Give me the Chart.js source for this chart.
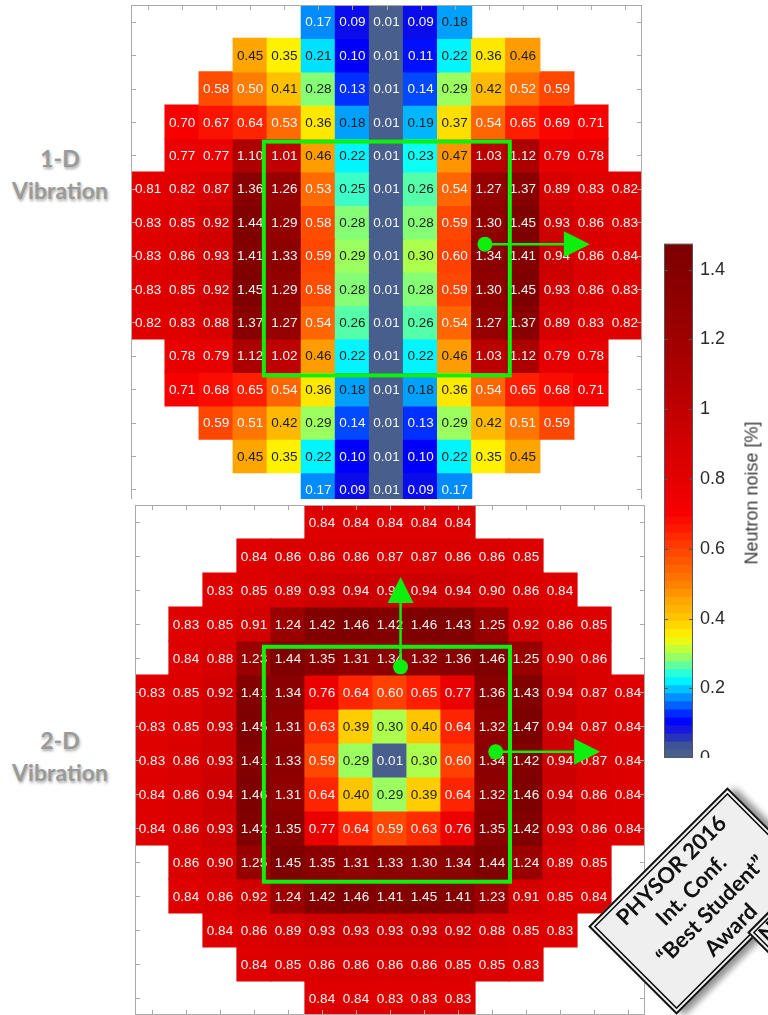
<!DOCTYPE html>
<html>
<head>
<meta charset="utf-8">
<script src="https://cdn.jsdelivr.net/npm/chart.js@4.4.1/dist/chart.umd.min.js"></script>
<style>
  html, body { margin: 0; padding: 0; background: #fff; }
  body { width: 768px; height: 1015px; overflow: hidden; position: relative; font-family: "Liberation Sans", Arial, sans-serif; }
  .abs { position: absolute; }
  .clip { position: absolute; overflow: hidden; }
  .side { position: absolute; width: 120px; text-align: center; font-family: Lato, "Open Sans", sans-serif; font-weight: 700; font-size: 23px; line-height: 32px; color: #9a9a9a; text-shadow: 1px 2px 3px rgba(0,0,0,0.35); }
  .cblabel { position: absolute; left: 752px; top: 493px; transform: translate(-50%, -50%) rotate(-90deg); white-space: nowrap; font-size: 18px; color: #3a3a3a; }
  .sign { position: absolute; width: 197px; height: 125px; box-sizing: border-box; background: #efefef;
          border: 2px solid #111; box-shadow: inset 0 0 0 2px #fafafa, inset 0 0 0 3.5px #111, 5px 6px 7px rgba(0,0,0,0.45);
          transform: translate(-50%, -50%) rotate(-45deg); font-family: Lato, "Open Sans", sans-serif; font-weight: 700; font-size: 22px; color: #111; }
  .sign .txt { position: absolute; left: 0; right: 0; top: 50%; transform: translateY(-52%); text-align: center; line-height: 28px; }
</style>
</head>
<body>

<div class="side" style="left:0px; top:142px;">1-D<br>Vibration</div>
<div class="side" style="left:0px; top:724px;">2-D<br>Vibration</div>

<div class="clip" style="left:0; top:0; width:660px; height:499px;">
  <div class="abs" style="left:129px; top:3px; width:515px; height:505px;"><canvas id="top"></canvas></div>
</div>
<div class="abs" style="left:133px; top:503px; width:514px; height:514px;"><canvas id="bottom"></canvas></div>

<div class="clip" style="left:600px; top:0; width:168px; height:758px;">
  <div class="abs" style="left:51px; top:226px; width:117px; height:550px;"><canvas id="cbar"></canvas></div>
</div>
<div class="cblabel">Neutron noise [%]</div>

<div class="sign" style="left:702px; top:901px;">
  <div class="txt">PHYSOR 2016<br>Int. Conf.<br>“Best Student”<br>Award</div>
</div>
<div class="sign" style="left:861px; top:907px;">
  <span style="position:absolute; left:5px; top:-2px;">N</span>
</div>

<script>
// core map: 15 x 15 positions, each row starts at rowStart[r]
const cols = ['1','2','3','4','5','6','7','8','9','10','11','12','13','14','15'];
const rowStart = [5, 3, 2, 1, 1, 0, 0, 0, 0, 0, 1, 1, 2, 3, 5];

// 1-D vibration, neutron noise [%]
const noise1D = [
  [0.17, 0.09, 0.01, 0.09, 0.18],
  [0.45, 0.35, 0.21, 0.10, 0.01, 0.11, 0.22, 0.36, 0.46],
  [0.58, 0.50, 0.41, 0.28, 0.13, 0.01, 0.14, 0.29, 0.42, 0.52, 0.59],
  [0.70, 0.67, 0.64, 0.53, 0.36, 0.18, 0.01, 0.19, 0.37, 0.54, 0.65, 0.69, 0.71],
  [0.77, 0.77, 1.10, 1.01, 0.46, 0.22, 0.01, 0.23, 0.47, 1.03, 1.12, 0.79, 0.78],
  [0.81, 0.82, 0.87, 1.36, 1.26, 0.53, 0.25, 0.01, 0.26, 0.54, 1.27, 1.37, 0.89, 0.83, 0.82],
  [0.83, 0.85, 0.92, 1.44, 1.29, 0.58, 0.28, 0.01, 0.28, 0.59, 1.30, 1.45, 0.93, 0.86, 0.83],
  [0.83, 0.86, 0.93, 1.41, 1.33, 0.59, 0.29, 0.01, 0.30, 0.60, 1.34, 1.41, 0.94, 0.86, 0.84],
  [0.83, 0.85, 0.92, 1.45, 1.29, 0.58, 0.28, 0.01, 0.28, 0.59, 1.30, 1.45, 0.93, 0.86, 0.83],
  [0.82, 0.83, 0.88, 1.37, 1.27, 0.54, 0.26, 0.01, 0.26, 0.54, 1.27, 1.37, 0.89, 0.83, 0.82],
  [0.78, 0.79, 1.12, 1.02, 0.46, 0.22, 0.01, 0.22, 0.46, 1.03, 1.12, 0.79, 0.78],
  [0.71, 0.68, 0.65, 0.54, 0.36, 0.18, 0.01, 0.18, 0.36, 0.54, 0.65, 0.68, 0.71],
  [0.59, 0.51, 0.42, 0.29, 0.14, 0.01, 0.13, 0.29, 0.42, 0.51, 0.59],
  [0.45, 0.35, 0.22, 0.10, 0.01, 0.10, 0.22, 0.35, 0.45],
  [0.17, 0.09, 0.01, 0.09, 0.17]
];

// 2-D vibration
const noise2D = [
  [0.84, 0.84, 0.84, 0.84, 0.84],
  [0.84, 0.86, 0.86, 0.86, 0.87, 0.87, 0.86, 0.86, 0.85],
  [0.83, 0.85, 0.89, 0.93, 0.94, 0.94, 0.94, 0.94, 0.90, 0.86, 0.84],
  [0.83, 0.85, 0.91, 1.24, 1.42, 1.46, 1.42, 1.46, 1.43, 1.25, 0.92, 0.86, 0.85],
  [0.84, 0.88, 1.23, 1.44, 1.35, 1.31, 1.34, 1.32, 1.36, 1.46, 1.25, 0.90, 0.86],
  [0.83, 0.85, 0.92, 1.41, 1.34, 0.76, 0.64, 0.60, 0.65, 0.77, 1.36, 1.43, 0.94, 0.87, 0.84],
  [0.83, 0.85, 0.93, 1.45, 1.31, 0.63, 0.39, 0.30, 0.40, 0.64, 1.32, 1.47, 0.94, 0.87, 0.84],
  [0.83, 0.86, 0.93, 1.41, 1.33, 0.59, 0.29, 0.01, 0.30, 0.60, 1.34, 1.42, 0.94, 0.87, 0.84],
  [0.84, 0.86, 0.94, 1.46, 1.31, 0.64, 0.40, 0.29, 0.39, 0.64, 1.32, 1.46, 0.94, 0.86, 0.84],
  [0.84, 0.86, 0.93, 1.42, 1.35, 0.77, 0.64, 0.59, 0.63, 0.76, 1.35, 1.42, 0.93, 0.86, 0.84],
  [0.86, 0.90, 1.25, 1.45, 1.35, 1.31, 1.33, 1.30, 1.34, 1.44, 1.24, 0.89, 0.85],
  [0.84, 0.86, 0.92, 1.24, 1.42, 1.46, 1.41, 1.45, 1.41, 1.23, 0.91, 0.85, 0.84],
  [0.84, 0.86, 0.89, 0.93, 0.93, 0.93, 0.93, 0.92, 0.88, 0.85, 0.83],
  [0.84, 0.85, 0.86, 0.86, 0.86, 0.86, 0.85, 0.85, 0.83],
  [0.84, 0.84, 0.83, 0.83, 0.83]
];

const cbarTicks = [0, 0.2, 0.4, 0.6, 0.8, 1, 1.2, 1.4];
const cbarMax = 1.474;
const cbarLevels = 64;

// colormap stops: value -> rgb
const cmap = [
  [0.00, [72, 94, 140]], [0.026, [72, 94, 140]], [0.05, [45, 60, 175]], [0.075, [28, 30, 215]],
  [0.10, [0, 0, 250]], [0.13, [0, 48, 255]], [0.155, [0, 110, 255]], [0.18, [0, 160, 255]],
  [0.205, [0, 215, 255]], [0.225, [0, 255, 255]], [0.25, [60, 255, 200]], [0.27, [110, 255, 140]],
  [0.29, [155, 255, 95]], [0.315, [200, 255, 50]], [0.345, [255, 245, 0]], [0.39, [255, 205, 0]],
  [0.45, [255, 165, 0]], [0.50, [255, 125, 0]], [0.55, [255, 95, 0]], [0.60, [255, 65, 0]],
  [0.65, [255, 30, 0]], [0.70, [248, 0, 0]], [0.80, [228, 0, 0]], [0.90, [212, 0, 0]],
  [1.00, [192, 0, 0]], [1.12, [172, 0, 0]], [1.25, [152, 0, 0]], [1.35, [138, 0, 0]], [1.474, [124, 0, 0]]
];

function noiseColor(v) {
  if (v <= cmap[0][0]) return `rgb(${cmap[0][1].join(',')})`;
  for (let i = 1; i < cmap.length; i++) {
    if (v <= cmap[i][0]) {
      const [a, ca] = cmap[i - 1], [b, cb] = cmap[i];
      const t = (v - a) / (b - a);
      return 'rgb(' + ca.map((c, k) => Math.round(c + (cb[k] - c) * t)).join(',') + ')';
    }
  }
  return `rgb(${cmap[cmap.length - 1][1].join(',')})`;
}

const GREEN = '#0df00d';

// draws axes box, inward ticks, cell values and the green markers
const heatPlugin = {
  id: 'heat',
  afterDatasetsDraw(chart, args, opts) {
    const { ctx, chartArea: a, scales: { x, y } } = chart;
    ctx.save();

    // box + inward ticks (matlab style)
    ctx.strokeStyle = '#a9a9a9';
    ctx.lineWidth = 1;
    ctx.strokeRect(a.left + 0.5, a.top + 0.5, a.width - 1, a.height - 1);
    ctx.beginPath();
    cols.forEach((c, i) => {
      const px = Math.round(x.getPixelForValue(i)) + 0.5;
      ctx.moveTo(px, a.top); ctx.lineTo(px, a.top + 5);
      ctx.moveTo(px, a.bottom); ctx.lineTo(px, a.bottom - 5);
    });
    for (let r = 0; r < 15; r++) {
      const py = Math.round(y.getPixelForValue(r)) + 0.5;
      ctx.moveTo(a.left, py); ctx.lineTo(a.left + 5, py);
      ctx.moveTo(a.right, py); ctx.lineTo(a.right - 5, py);
    }
    ctx.stroke();

    // values
    ctx.font = '13.5px "Liberation Sans", Arial, sans-serif';
    ctx.textAlign = 'center';
    ctx.textBaseline = 'middle';
    opts.grid.forEach((row, r) => row.forEach((v, k) => {
      ctx.fillStyle = (v >= 0.18 && v <= 0.48) ? '#1c1c1c' : '#f6f6f6';
      ctx.fillText(v.toFixed(2), x.getPixelForValue(rowStart[r] + k), y.getPixelForValue(r) + 1);
    }));

    // green frame
    const fr = opts.frame;
    ctx.strokeStyle = GREEN;
    ctx.fillStyle = GREEN;
    ctx.lineWidth = 4;
    ctx.lineJoin = 'miter';
    const fx0 = x.getPixelForValue(fr[0]), fx1 = x.getPixelForValue(fr[1]);
    const fy0 = y.getPixelForValue(fr[2]), fy1 = y.getPixelForValue(fr[3]);
    ctx.strokeRect(fx0, fy0, fx1 - fx0, fy1 - fy0);

    // arrows: dot -> line -> triangular head
    opts.arrows.forEach(([dx, dy, tx, ty]) => {
      const p0 = [x.getPixelForValue(dx), y.getPixelForValue(dy)];
      const p1 = [x.getPixelForValue(tx), y.getPixelForValue(ty)];
      const len = Math.hypot(p1[0] - p0[0], p1[1] - p0[1]);
      const ux = (p1[0] - p0[0]) / len, uy = (p1[1] - p0[1]) / len;
      const hb = [p1[0] - ux * 26, p1[1] - uy * 26];
      ctx.lineWidth = 2.5;
      ctx.beginPath();
      ctx.moveTo(p0[0], p0[1]); ctx.lineTo(hb[0], hb[1]);
      ctx.stroke();
      ctx.beginPath();
      ctx.arc(p0[0], p0[1], 7.5, 0, Math.PI * 2);
      ctx.fill();
      ctx.beginPath();
      ctx.moveTo(p1[0], p1[1]);
      ctx.lineTo(hb[0] - uy * 13, hb[1] + ux * 13);
      ctx.lineTo(hb[0] + uy * 13, hb[1] - ux * 13);
      ctx.closePath();
      ctx.fill();
    });
    ctx.restore();
  }
};

function heatChart(id, grid, frame, arrows) {
  const datasets = grid.map((row, r) => ({
    data: cols.map((c, i) => {
      const k = i - rowStart[r];
      return (k >= 0 && k < row.length) ? [r - 0.5, r + 0.5] : null;
    }),
    backgroundColor: cols.map((c, i) => {
      const k = i - rowStart[r];
      return (k >= 0 && k < row.length) ? noiseColor(row[k]) : 'rgba(0,0,0,0)';
    }),
    borderWidth: 0,
    inflateAmount: 0.6,
    barPercentage: 1,
    categoryPercentage: 1,
    grouped: false
  }));

  return new Chart(document.getElementById(id), {
    type: 'bar',
    data: { labels: cols, datasets },
    options: {
      responsive: true,
      maintainAspectRatio: false,
      animation: false,
      layout: { padding: 2 },
      scales: {
        x: { display: false, offset: true },
        y: { display: false, min: -0.5, max: 14.5, reverse: true }
      },
      plugins: {
        legend: { display: false },
        tooltip: { enabled: false },
        heat: { grid, frame, arrows }
      }
    },
    plugins: [heatPlugin]
  });
}

heatChart('top', noise1D, [3.4, 10.62, 3.59, 10.59], [[9.89, 6.66, 12.97, 6.66]]);
heatChart('bottom', noise2D, [3.29, 10.53, 3.67, 10.58], [[7.31, 4.26, 7.31, 1.62], [10.11, 6.76, 13.18, 6.76]]);

// colorbar
const cbarPlugin = {
  id: 'cbarFrame',
  afterDatasetsDraw(chart) {
    const { ctx, chartArea: a, scales: { y } } = chart;
    ctx.save();
    ctx.strokeStyle = '#555';
    ctx.lineWidth = 1;
    ctx.strokeRect(a.left + 0.5, a.top + 0.5, a.width - 1, a.height - 1);
    ctx.beginPath();
    cbarTicks.forEach(v => {
      const py = Math.round(y.getPixelForValue(v)) + 0.5;
      ctx.moveTo(a.right, py); ctx.lineTo(a.right - 4, py);
      ctx.moveTo(a.left, py); ctx.lineTo(a.left + 4, py);
    });
    ctx.stroke();
    ctx.restore();
  }
};

const cbStep = cbarMax / cbarLevels;
new Chart(document.getElementById('cbar'), {
  type: 'bar',
  data: {
    labels: [''],
    datasets: Array.from({ length: cbarLevels }, (_, i) => ({
      data: [[i * cbStep, (i + 1) * cbStep]],
      backgroundColor: noiseColor((i + 0.5) * cbStep),
      borderWidth: 0,
      inflateAmount: 0.6,
      barPercentage: 1,
      categoryPercentage: 1,
      grouped: false
    }))
  },
  options: {
    responsive: true,
    maintainAspectRatio: false,
    animation: false,
    layout: { padding: { left: 13, top: 12, bottom: 12, right: 0 } },
    scales: {
      x: { display: false },
      y: {
        position: 'right',
        min: 0,
        max: cbarMax,
        afterBuildTicks: s => { s.ticks = cbarTicks.map(v => ({ value: v })); },
        afterFit: s => { s.width = 75; },
        grid: { display: false, drawTicks: false },
        border: { display: false },
        ticks: {
          padding: 7,
          color: '#2a2a2a',
          font: { family: '"Liberation Sans", Arial, sans-serif', size: 18 },
          callback: v => String(+v.toFixed(1))
        }
      }
    },
    plugins: { legend: { display: false }, tooltip: { enabled: false } }
  },
  plugins: [cbarPlugin]
});
</script>
</body>
</html>
